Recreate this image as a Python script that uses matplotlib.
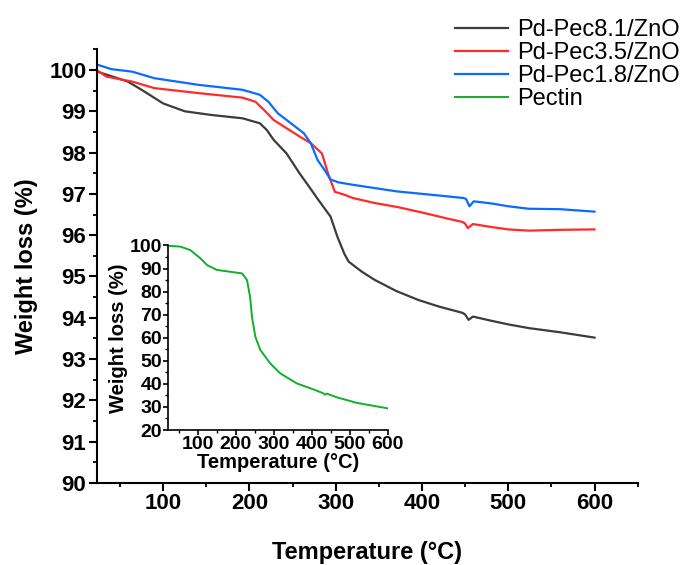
import numpy as np
import matplotlib
matplotlib.use('Agg')
import matplotlib.pyplot as plt
from matplotlib.ticker import MultipleLocator

plt.rcParams['font.family'] = ['Liberation Sans', 'DejaVu Sans']

# TGA curves (temperature in C, weight in %)
t_81 = [25, 40, 59, 75, 100, 125, 156, 192, 212, 220, 228, 243, 258, 270, 279, 294, 302,
        310, 315, 330, 345, 370, 396, 420, 447, 450, 454, 459, 480, 500, 524, 560, 600]
w_81 = [99.95, 99.85, 99.72, 99.52, 99.19, 99.0, 98.91, 98.83, 98.71, 98.55, 98.31, 97.98,
        97.5, 97.15, 96.88, 96.45, 95.96, 95.55, 95.36, 95.12, 94.92, 94.65, 94.43, 94.27,
        94.12, 94.08, 93.95, 94.03, 93.93, 93.84, 93.75, 93.65, 93.52]

t_35 = [25, 34, 64, 90, 141, 192, 207, 217, 228, 258, 271, 284, 291, 299, 310, 320, 345,
        372, 400, 430, 447, 450, 453, 459, 480, 500, 524, 560, 600]
w_35 = [99.97, 99.84, 99.72, 99.56, 99.44, 99.33, 99.23, 99.03, 98.79, 98.39, 98.23, 97.98,
        97.5, 97.05, 96.98, 96.9, 96.78, 96.68, 96.55, 96.4, 96.32, 96.28, 96.17, 96.27,
        96.2, 96.14, 96.11, 96.13, 96.14]

t_18 = [25, 40, 64, 90, 141, 192, 212, 222, 233, 248, 263, 271, 279, 287, 294, 303, 320,
        371, 420, 448, 451, 455, 460, 480, 500, 524, 560, 600]
w_18 = [100.12, 100.02, 99.96, 99.8, 99.64, 99.52, 99.4, 99.23, 98.95, 98.71, 98.47, 98.23,
        97.82, 97.58, 97.35, 97.28, 97.22, 97.06, 96.96, 96.9, 96.88, 96.7, 96.82, 96.77,
        96.7, 96.64, 96.63, 96.57]

t_pec = [25, 55, 81, 107, 125, 151, 186, 217, 230, 238, 243, 252, 265, 291, 317, 361, 405,
         431, 435, 440, 466, 518, 600]
w_pec = [99.9, 99.5, 98.0, 94.5, 91.5, 89.4, 88.6, 87.9, 85.0, 77.8, 69.1, 60.4, 54.7, 48.9,
         44.6, 40.2, 37.6, 35.9, 35.3, 35.8, 34.2, 31.8, 29.4]

labels = ['Pd-Pec8.1/ZnO', 'Pd-Pec3.5/ZnO', 'Pd-Pec1.8/ZnO', 'Pectin']
colors = ['#3c3c3c', '#ff2b2b', '#0a6cff', '#0fb02c']

fig = plt.figure(figsize=(6.87, 5.65), dpi=100)
ax = fig.add_axes([0.1408, 0.1451, 0.7874, 0.7676])

l1, = ax.plot(t_81, w_81, color=colors[0], lw=1.6)
l2, = ax.plot(t_35, w_35, color=colors[1], lw=1.6)
l3, = ax.plot(t_18, w_18, color=colors[2], lw=1.6)

ax.set_xlim(23, 650)
ax.set_ylim(90, 100.5)
ax.set_xticks([100, 200, 300, 400, 500, 600])
ax.set_yticks(np.arange(90, 101, 1))
ax.xaxis.set_minor_locator(MultipleLocator(50))
ax.yaxis.set_minor_locator(MultipleLocator(0.5))
for s in ['top', 'right']:
    ax.spines[s].set_visible(False)
for s in ['left', 'bottom']:
    ax.spines[s].set_linewidth(1.5)
ax.tick_params(which='major', direction='out', length=5.5, width=1.5, labelsize=16, pad=2)
ax.tick_params(which='minor', direction='out', length=3, width=1.3)
for lab in ax.get_xticklabels() + ax.get_yticklabels():
    lab.set_fontweight('bold')
ax.set_xlabel('Temperature (°C)', fontsize=17, fontweight='bold', labelpad=19)
ax.set_ylabel('Weight loss (%)', fontsize=17, fontweight='bold', labelpad=8)

# inset with pectin, transparent so the main curves show through
ins = fig.add_axes([0.245, 0.2389, 0.3193, 0.3266])
ins.patch.set_alpha(0)
l4, = ins.plot(t_pec, w_pec, color=colors[3], lw=1.4)
ins.set_xlim(23, 600)
ins.set_ylim(20, 100)
ins.set_xticks([100, 200, 300, 400, 500, 600])
ins.set_yticks(np.arange(20, 101, 10))
ins.xaxis.set_minor_locator(MultipleLocator(50))
ins.yaxis.set_minor_locator(MultipleLocator(5))
for s in ['top', 'right']:
    ins.spines[s].set_visible(False)
for s in ['left', 'bottom']:
    ins.spines[s].set_linewidth(1.2)
ins.tick_params(which='major', direction='out', length=3.5, width=1.2, labelsize=14, pad=1)
ins.tick_params(which='minor', direction='out', length=2, width=1.0)
for lab in ins.get_xticklabels() + ins.get_yticklabels():
    lab.set_fontweight('bold')
ins.set_xlabel('Temperature (°C)', fontsize=14.5, fontweight='bold', labelpad=0)
ins.set_ylabel('Weight loss (%)', fontsize=14.5, fontweight='bold', labelpad=1)

fig.legend([l1, l2, l3, l4], labels, loc='upper left', bbox_to_anchor=(0.662, 0.966),
           frameon=False, fontsize=17, handlelength=2.25, handletextpad=0.4,
           labelspacing=0.04, borderpad=0, borderaxespad=0)

fig.savefig('out.png', dpi=100)
